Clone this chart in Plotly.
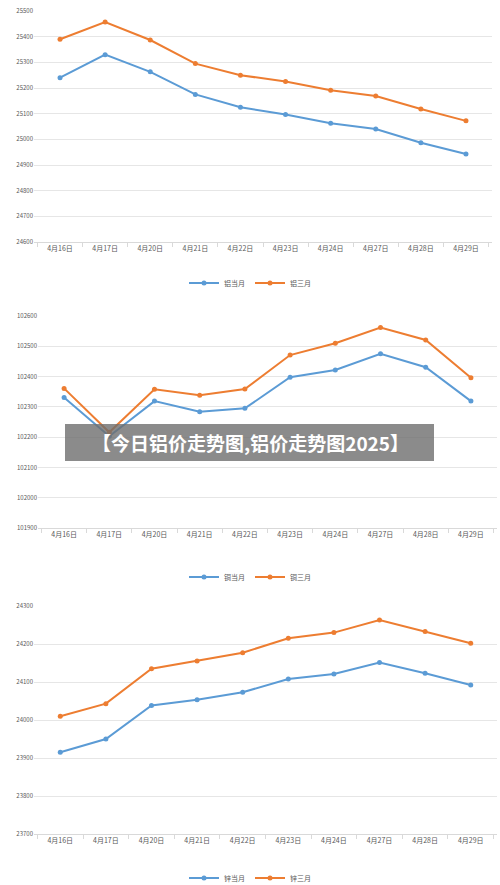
import plotly.graph_objects as go

dates = ["4月16日","4月17日","4月20日","4月21日","4月22日","4月23日","4月24日","4月27日","4月28日","4月29日"]
al_cur = [25240,25330,25263,25175,25125,25097,25063,25040,24987,24943]
al_3m = [25390,25457,25387,25295,25250,25225,25191,25169,25118,25072]
cu_cur = [102331,102203,102319,102284,102295,102398,102422,102475,102431,102319]
cu_3m = [102361,102216,102358,102338,102359,102471,102510,102562,102521,102396]
zn_cur = [23915,23950,24038,24053,24073,24108,24121,24151,24123,24092]
zn_3m = [24010,24043,24135,24155,24177,24215,24230,24263,24233,24202]
names = [("铝当月","铝三月"),("铜当月","铜三月"),("锌当月","锌三月")]
ranges = [(24600,25500),(101900,102600),(23700,24300)]

def Y(r):
    return 1 - r / 885
def X(r):
    return r / 500

ydoms = [(Y(242),Y(11)),(Y(528),Y(316)),(Y(834),Y(606))]
xdoms = [(X(34),X(492)),(X(38),X(497)),(X(34),X(497))]
legys = [Y(283),Y(577),Y(878)]
BLUE="#5b9bd5"; ORANGE="#ed7d31"

fig = go.Figure()
series = [(al_cur,al_3m),(cu_cur,cu_3m),(zn_cur,zn_3m)]
for i,(a,b) in enumerate(series):
    sfx = "" if i==0 else str(i+1)
    leg = "legend" if i==0 else f"legend{i+1}"
    for vals,nm,c in [(a,names[i][0],BLUE),(b,names[i][1],ORANGE)]:
        fig.add_trace(go.Scatter(x=dates,y=vals,name=nm,mode="lines+markers",
            line=dict(color=c,width=2),marker=dict(size=5,color=c),
            xaxis="x"+sfx,yaxis="y"+sfx,legend=leg))
    fig.layout["xaxis"+sfx] = dict(domain=xdoms[i],anchor="y"+sfx,type="category",
        showline=True,linecolor="#d9d9d9",ticks="outside",tickson="boundaries",ticklen=4,
        tickcolor="#d9d9d9",tickfont=dict(size=7,color="#595959"),showgrid=False,automargin=False)
    fig.layout["yaxis"+sfx] = dict(domain=ydoms[i],anchor="x"+sfx,range=ranges[i],dtick=100,
        gridcolor="#e6e6e6",tickfont=dict(size=6,color="#595959"),showline=False,zeroline=False,
        tickformat="d",automargin=False)
    fig.layout[leg] = dict(orientation="h",x=0.5,xanchor="center",y=legys[i],yanchor="middle",
        font=dict(size=7,color="#595959"),bgcolor="rgba(0,0,0,0)",itemwidth=30,
        tracegroupgap=0)

fig.add_shape(type="rect",xref="paper",yref="paper",x0=X(65),x1=X(434),y0=Y(461),y1=Y(424),
    fillcolor="rgba(110,110,110,0.8)",line_width=0)
fig.add_annotation(text="<b>【今日铝价走势图,铝价走势图2025】</b>",xref="paper",yref="paper",
    x=X(250),y=Y(442),showarrow=False,font=dict(size=19,color="white",family="Noto Sans CJK SC"))
fig.update_layout(width=500,height=885,margin=dict(l=0,r=0,t=0,b=0,autoexpand=False),
    plot_bgcolor="white",paper_bgcolor="white",font=dict(family="Noto Sans CJK SC"))
fig.write_html("out.html", config={"displayModeBar": False})
with open("out.html", encoding="utf-8") as f:
    html = f.read()
html = html.replace("<body>", '<body style="margin:0;overflow:hidden">', 1)
with open("out.html", "w", encoding="utf-8") as f:
    f.write(html)
